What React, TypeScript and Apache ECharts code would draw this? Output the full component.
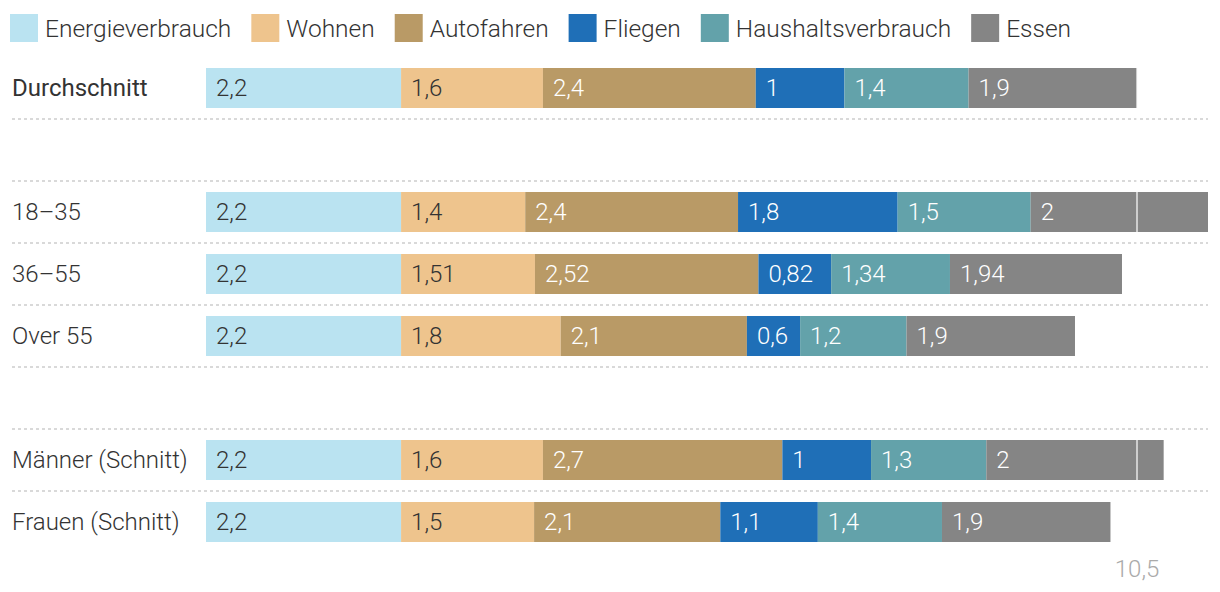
import React, { useEffect, useRef } from "react";
import * as echarts from "echarts";

const categories = ["Durchschnitt", " ", "18–35", "36–55", "Over 55", "  ", "Männer (Schnitt)", "Frauen (Schnitt)"];
const seriesNames = ["Energieverbrauch", "Wohnen", "Autofahren", "Fliegen", "Haushaltsverbrauch", "Essen"];
const energie = [2.2, null, 2.2, 2.2, 2.2, null, 2.2, 2.2];
const wohnen = [1.6, null, 1.4, 1.51, 1.8, null, 1.6, 1.5];
const autofahren = [2.4, null, 2.4, 2.52, 2.1, null, 2.7, 2.1];
const fliegen = [1, null, 1.8, 0.82, 0.6, null, 1, 1.1];
const haushalt = [1.4, null, 1.5, 1.34, 1.2, null, 1.3, 1.4];
const essen = [1.9, null, 2, 1.94, 1.9, null, 2, 1.9];
const averageTotal = 10.5;

const seriesData = [energie, wohnen, autofahren, fliegen, haushalt, essen];
const colors = ["#bae3f1", "#eec48d", "#b99a66", "#1f6fb7", "#63a2aa", "#858585"];
const labelColors = ["#333333", "#333333", "#ffffff", "#ffffff", "#ffffff", "#ffffff"];

const FONT = "Roboto";
const fmt = (v: number) => String(v).replace(".", ",");

export default function App() {
  const ref = useRef<HTMLDivElement>(null);
  useEffect(() => {
    if (!ref.current) return;
    const chart = echarts.init(ref.current, undefined, { renderer: "svg" });
    const series: any[] = seriesData.map((d, i) => {
      const s: any = {
        name: seriesNames[i],
        type: "bar",
        stack: "total",
        xAxisIndex: 1,
        yAxisIndex: 1,
        barWidth: 40,
        data: d,
        itemStyle: { color: colors[i] },
        label: {
          show: true,
          position: "insideLeft",
          distance: 10,
          fontFamily: FONT,
          fontSize: 24,
          fontWeight: 300,
          color: labelColors[i],
          formatter: (p: any) => (p.value == null ? "" : fmt(p.value)),
        },
      };
      if (i === seriesData.length - 1) {
        s.markLine = {
          silent: true,
          symbol: "none",
          lineStyle: { color: "rgba(255,255,255,0.6)", width: 2, type: "solid" },
          label: {
            show: true,
            position: "end",
            distance: 4,
            fontFamily: FONT,
            fontSize: 24,
            fontWeight: 300,
            color: "#aaaaaa",
            formatter: () => fmt(averageTotal),
          },
          data: [{ xAxis: averageTotal }],
        };
      }
      return s;
    });
    chart.setOption({
      animation: false,
      color: colors,
      legend: {
        left: 5,
        top: 9,
        itemWidth: 28,
        itemHeight: 28,
        itemGap: 20,
        icon: "rect",
        data: seriesNames,
        textStyle: { fontFamily: FONT, fontSize: 24.5, fontWeight: 300, color: "#333", padding: [0, 0, 0, 2] },
      },
      grid: [
        { left: 12, right: 12, top: 57, bottom: 39 },
        { left: 206, right: 12, top: 57, bottom: 39 },
      ],
      xAxis: [
        { type: "value", gridIndex: 0, show: false, min: 0, max: 1 },
        { type: "value", gridIndex: 1, show: false, min: 0, max: 11.3 },
      ],
      yAxis: [
        {
          type: "category",
          gridIndex: 0,
          inverse: true,
          data: categories,
          axisLine: { show: false },
          axisTick: { show: false },
          axisLabel: {
            inside: true,
            margin: 0,
            fontFamily: FONT,
            fontSize: 24,
            fontWeight: 300,
            color: "#333",
            formatter: (v: string) => (v === "Durchschnitt" ? "{b|" + v + "}" : v),
            rich: { b: { fontFamily: FONT, fontSize: 24, fontWeight: 400, color: "#333" } },
          },
          splitLine: {
            show: true,
            showMinLine: false,
            showMaxLine: false,
            lineStyle: { color: "#d9d9d9", width: 2, type: [3, 3] },
          },
        },
        {
          type: "category",
          gridIndex: 1,
          inverse: true,
          data: categories,
          show: false,
        },
      ],
      series,
    });
    return () => chart.dispose();
  }, []);
  return <div ref={ref} style={{ position: "fixed", left: 0, top: 0, width: 1220, height: 592, background: "#fff" }} />;
}
